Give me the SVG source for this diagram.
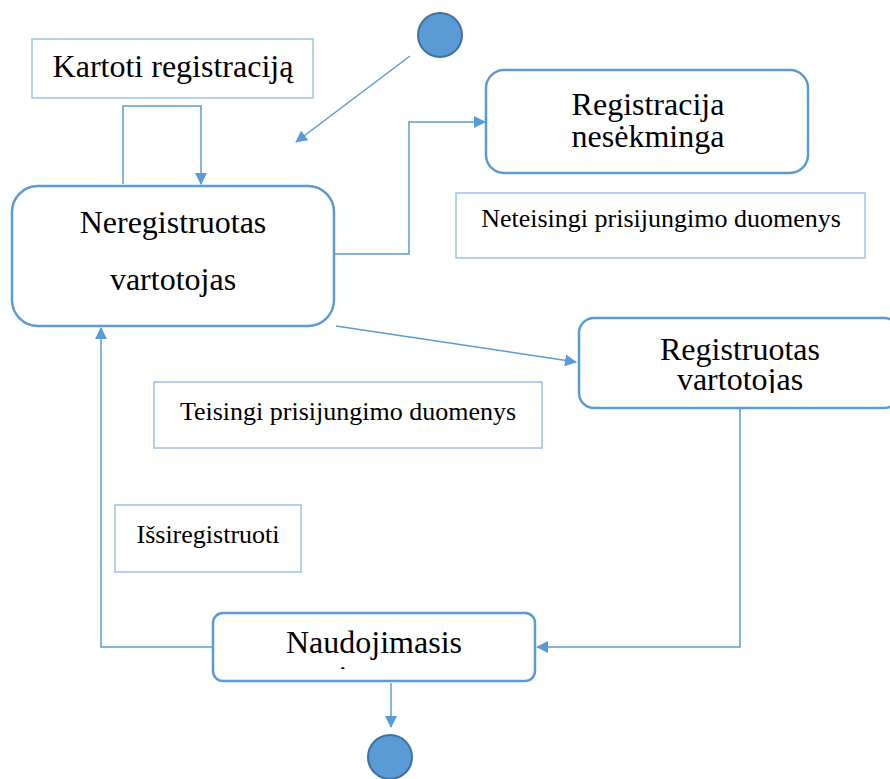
<svg xmlns="http://www.w3.org/2000/svg" width="890" height="779" viewBox="0 0 890 779">
  <style>
    .state { fill: #ffffff; stroke: #5B9BD5; stroke-width: 2.5; }
    .note { fill: #ffffff; stroke: #9DC3E6; stroke-width: 1.5; }
    .dot { fill: #5B9BD5; stroke: #41719C; stroke-width: 2; }
    .big { font-family: "Liberation Serif", "Times New Roman", serif; font-size: 32px; fill: #000; text-anchor: middle; }
    .small { font-family: "Liberation Serif", "Times New Roman", serif; font-size: 26px; fill: #000; text-anchor: middle; }
    .mid { font-family: "Liberation Serif", "Times New Roman", serif; font-size: 32px; fill: #000; text-anchor: middle; }
    .conn { fill: none; stroke: #5B9BD5; stroke-width: 1.5; }
  </style>
  <defs>
    <marker id="arrow" viewBox="0 0 12 12" refX="11" refY="6" markerWidth="12" markerHeight="12" markerUnits="userSpaceOnUse" orient="auto">
      <path d="M0,0 L12,6 L0,12 Z" fill="#5B9BD5"/>
    </marker>
    <clipPath id="clipReg"><rect x="578" y="318" width="312" height="75"/></clipPath>
    <clipPath id="clipUse"><rect x="213" y="613" width="322" height="56"/></clipPath>
  </defs>

  <rect width="890" height="779" fill="#ffffff"/>

  <!-- connectors -->
  <g id="connectors">
    <line class="conn" x1="410" y1="56" x2="296" y2="142" marker-end="url(#arrow)"/>
    <polyline class="conn" points="123,184 123,106 201,106 201,184" marker-end="url(#arrow)"/>
    <polyline class="conn" points="335,254 409,254 409,122 485,122" marker-end="url(#arrow)"/>
    <line class="conn" x1="336" y1="326" x2="576" y2="362" marker-end="url(#arrow)"/>
    <polyline class="conn" points="740,408 740,647 537,647" marker-end="url(#arrow)"/>
    <polyline class="conn" points="213,647 101,647 101,328" marker-end="url(#arrow)"/>
    <line class="conn" x1="391" y1="683" x2="391" y2="727" marker-end="url(#arrow)"/>
  </g>

  <!-- start point -->
  <g id="start">
    <circle class="dot" cx="440" cy="35" r="22"/>
  </g>

  <g id="note-kartoti">
    <rect class="note" x="32" y="39" width="281" height="59"/>
    <text class="mid" x="173" y="77">Kartoti registraciją</text>
  </g>

  <g id="neregistruotas">
    <rect class="state" x="12" y="186" width="322" height="140" rx="26"/>
    <text class="big" x="173" y="233">Neregistruotas</text>
    <text class="big" x="173" y="290">vartotojas</text>
  </g>

  <g id="nesekminga">
    <rect class="state" x="486" y="70" width="322" height="103" rx="18"/>
    <text class="big" x="648" y="115">Registracija</text>
    <text class="big" x="648" y="147">nesėkminga</text>
  </g>

  <g id="note-neteisingi">
    <rect class="note" x="456" y="193" width="409" height="65"/>
    <text class="small" x="661" y="227">Neteisingi prisijungimo duomenys</text>
  </g>

  <g id="registruotas">
    <rect class="state" x="579" y="318" width="320" height="90" rx="15"/>
    <g clip-path="url(#clipReg)">
      <text class="big" x="740" y="360">Registruotas</text>
      <text class="big" x="740" y="390">vartotojas</text>
    </g>
  </g>

  <g id="note-teisingi">
    <rect class="note" x="154" y="382" width="388" height="66"/>
    <text class="small" x="348" y="420">Teisingi prisijungimo duomenys</text>
  </g>

  <g id="note-issiregistruoti">
    <rect class="note" x="115" y="505" width="186" height="67"/>
    <text class="small" x="208" y="543">Išsiregistruoti</text>
  </g>

  <g id="naudojimasis">
    <rect class="state" x="213" y="613" width="322" height="68" rx="10"/>
    <g clip-path="url(#clipUse)">
      <text class="big" x="374" y="653">Naudojimasis</text>
      <text class="big" x="374" y="688">sistema</text>
    </g>
  </g>

  <!-- end point -->
  <g id="end">
    <circle class="dot" cx="390" cy="757" r="22"/>
  </g>
</svg>
